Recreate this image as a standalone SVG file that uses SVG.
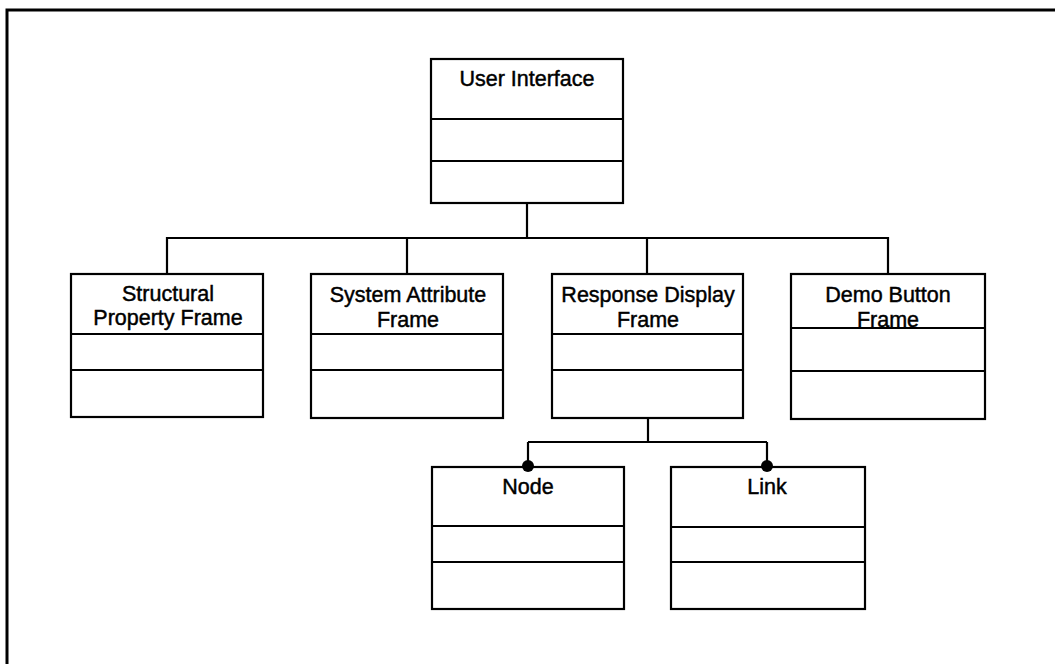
<svg xmlns="http://www.w3.org/2000/svg" width="1055" height="664" viewBox="0 0 1055 664">
  <style>
    .frame { fill: none; stroke: #000; stroke-width: 3; }
    .box { fill: #fff; stroke: #000; stroke-width: 2.2; }
    .sep { stroke: #000; stroke-width: 2.2; }
    .wire { fill: none; stroke: #000; stroke-width: 2.2; }
    .lbl { font-family: "Liberation Sans", Arial, sans-serif; font-size: 21.5px; fill: #000; stroke: #000; stroke-width: 0.45; text-anchor: middle; }
  </style>
  <defs>
    <marker id="dot" viewBox="0 0 12 12" refX="6" refY="6" markerWidth="12" markerHeight="12" markerUnits="userSpaceOnUse">
      <circle cx="6" cy="6" r="6" fill="#000"/>
    </marker>
  </defs>
  <rect width="1055" height="664" fill="#fff"/>

  <!-- outer frame (top and left edges) -->
  <path class="frame" d="M7,664 V10 H1055"/>

  <g id="user-interface">
    <rect class="box" x="431" y="59" width="192" height="144"/>
    <line class="sep" x1="431" y1="119" x2="623" y2="119"/>
    <line class="sep" x1="431" y1="161" x2="623" y2="161"/>
    <text class="lbl" x="527" y="86">User Interface</text>
  </g>

  <g id="structural-property-frame">
    <rect class="box" x="71" y="274" width="192" height="143"/>
    <line class="sep" x1="71" y1="334" x2="263" y2="334"/>
    <line class="sep" x1="71" y1="370" x2="263" y2="370"/>
    <text class="lbl" x="168" y="301">Structural</text>
    <text class="lbl" x="168" y="325">Property Frame</text>
  </g>

  <g id="system-attribute-frame">
    <rect class="box" x="311" y="274" width="192" height="144"/>
    <line class="sep" x1="311" y1="334" x2="503" y2="334"/>
    <line class="sep" x1="311" y1="370" x2="503" y2="370"/>
    <text class="lbl" x="408" y="302">System Attribute</text>
    <text class="lbl" x="408" y="327">Frame</text>
  </g>

  <g id="response-display-frame">
    <rect class="box" x="552" y="274" width="191" height="144"/>
    <line class="sep" x1="552" y1="334" x2="743" y2="334"/>
    <line class="sep" x1="552" y1="370" x2="743" y2="370"/>
    <text class="lbl" x="648" y="302">Response Display</text>
    <text class="lbl" x="648" y="327">Frame</text>
  </g>

  <g id="demo-button-frame">
    <rect class="box" x="791" y="274" width="194" height="145"/>
    <text class="lbl" x="888" y="302">Demo Button</text>
    <text class="lbl" x="888" y="327">Frame</text>
    <line class="sep" x1="791" y1="328" x2="985" y2="328"/>
    <line class="sep" x1="791" y1="371" x2="985" y2="371"/>
  </g>

  <g id="node">
    <rect class="box" x="432" y="467" width="192" height="142"/>
    <line class="sep" x1="432" y1="526" x2="624" y2="526"/>
    <line class="sep" x1="432" y1="562" x2="624" y2="562"/>
    <text class="lbl" x="528" y="494">Node</text>
  </g>

  <g id="link">
    <rect class="box" x="671" y="467" width="194" height="142"/>
    <line class="sep" x1="671" y1="527" x2="865" y2="527"/>
    <line class="sep" x1="671" y1="562" x2="865" y2="562"/>
    <text class="lbl" x="767" y="494">Link</text>
  </g>

  <!-- connectors, drawn over the boxes so the end dots stay whole -->
  <g id="connectors">
    <path class="wire" d="M527,203 V238"/>
    <path class="wire" d="M167,274 V238 H888 V274"/>
    <path class="wire" d="M407,238 V274"/>
    <path class="wire" d="M647,238 V274"/>
    <path class="wire" d="M648,418 V442"/>
    <path class="wire" d="M528,442 H767"/>
    <path class="wire" d="M528,442 V466" marker-end="url(#dot)"/>
    <path class="wire" d="M767,442 V466" marker-end="url(#dot)"/>
  </g>
</svg>
